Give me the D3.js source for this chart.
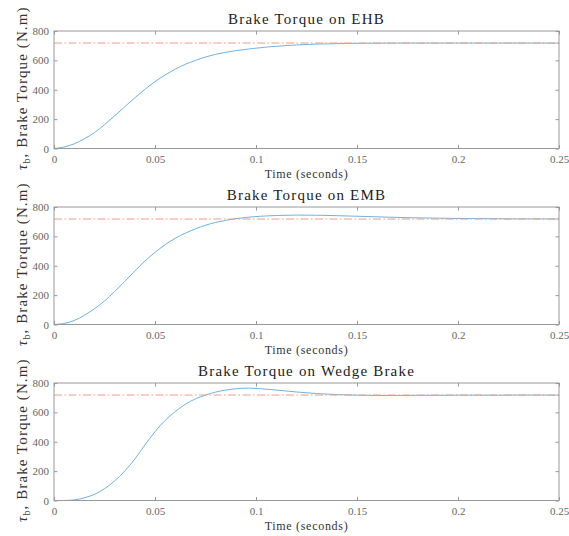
<!DOCTYPE html>
<html>
<head>
<meta charset="utf-8">
<script src="https://cdn.jsdelivr.net/npm/d3@7"></script>
<style>
  body { margin: 0; background: #fff; }
  svg text { font-family: "Liberation Serif", "Times New Roman", Tinos, "DejaVu Serif", serif !important; }
</style>
</head>
<body>
<div id="chart"></div>
<script>
// sample times (s)
const time = [0, 0.005, 0.01, 0.015, 0.02, 0.025, 0.03, 0.035, 0.04, 0.045, 0.05, 0.055,
  0.06, 0.065, 0.07, 0.075, 0.08, 0.085, 0.09, 0.095, 0.1, 0.11, 0.12, 0.13, 0.14, 0.15,
  0.16, 0.17, 0.18, 0.19, 0.2, 0.21, 0.22, 0.23, 0.24, 0.25];

const torqueEHB = [0, 10, 32, 66, 108, 162, 222, 284, 345, 403, 455, 500,
  540, 573, 600, 623, 641, 655, 666, 675, 683, 696, 705, 711, 714, 716,
  717, 718, 718, 718, 718, 718, 718, 718, 718, 718];

const torqueEMB = [0, 7, 27, 62, 107, 160, 224, 293, 364, 432, 491, 543,
  587, 622, 651, 676, 695, 709, 720, 729, 735, 742, 745, 744, 741, 737,
  733, 729, 726, 724, 722, 721, 720, 719, 719, 718];

const torqueWedge = [0, 0, 4, 18, 42, 80, 133, 200, 282, 378, 468, 545,
  605, 655, 692, 718, 738, 752, 761, 765, 763, 752, 739, 728, 721, 717,
  715, 715, 716, 716, 717, 717, 717, 718, 718, 718];

const setpoint = 718;
const titles = ["Brake Torque on EHB", "Brake Torque on EMB", "Brake Torque on Wedge Brake"];
const xTicks = [0, 0.05, 0.1, 0.15, 0.2, 0.25];
const xTickLabels = ["0", "0.05", "0.1", "0.15", "0.2", "0.25"];
const yTicks = [0, 200, 400, 600, 800];

const series = [torqueEHB, torqueEMB, torqueWedge];

const W = 569, H = 536;
const left = 54, right = 559, plotH = 117.5;
const tops = [31, 207, 383];
const axisColor = "#999";
const serif = "'Liberation Serif', 'Times New Roman', Tinos, 'DejaVu Serif', serif";

const svg = d3.select("#chart").append("svg")
  .attr("width", W)
  .attr("height", H);

const x = d3.scaleLinear().domain([0, 0.25]).range([left, right]);

series.forEach((vals, i) => {
  const top = tops[i], bottom = top + plotH;
  const y = d3.scaleLinear().domain([0, 800]).range([bottom, top]);
  const g = svg.append("g").attr("font-family", serif);

  // curves
  const line = d3.line()
    .x((d, k) => x(time[k]))
    .y(d => y(d))
    .curve(d3.curveCatmullRom);

  g.append("path")
    .attr("d", line(vals))
    .attr("fill", "none")
    .attr("stroke", "#6fb2e2")
    .attr("stroke-width", 1);

  g.append("line")
    .attr("x1", x(0)).attr("x2", x(0.25))
    .attr("y1", y(setpoint)).attr("y2", y(setpoint))
    .attr("stroke", "#ef9f7c")
    .attr("stroke-width", 1)
    .attr("stroke-dasharray", "8,2.5,1.5,2.5");

  // box + inward ticks on all four sides
  const tk = 3.5;
  const xb = g.append("g").attr("transform", `translate(0,${bottom})`)
    .call(d3.axisBottom(x).tickValues(xTicks).tickSize(-tk).tickFormat((d, k) => xTickLabels[k]));
  g.append("g").attr("transform", `translate(0,${top})`)
    .call(d3.axisTop(x).tickValues(xTicks).tickSize(-tk).tickFormat(""));
  const yl = g.append("g").attr("transform", `translate(${left},0)`)
    .call(d3.axisLeft(y).tickValues(yTicks).tickSize(-tk));
  g.append("g").attr("transform", `translate(${right},0)`)
    .call(d3.axisRight(y).tickValues(yTicks).tickSize(-tk).tickFormat(""));

  g.selectAll(".domain").remove();
  g.selectAll(".tick line").attr("stroke", axisColor);
  g.selectAll(".tick text")
    .attr("font-family", serif)
    .attr("font-size", 11)
    .attr("fill", "#666");
  xb.selectAll(".tick text").attr("dy", null).attr("y", 14);
  yl.selectAll(".tick text").attr("x", -5);

  g.append("rect")
    .attr("x", left).attr("y", top)
    .attr("width", right - left).attr("height", plotH)
    .attr("fill", "none")
    .attr("stroke", axisColor)
    .attr("stroke-width", 1);

  // title
  g.append("text")
    .attr("x", (left + right) / 2)
    .attr("y", top - 7.5)
    .attr("text-anchor", "middle")
    .attr("font-size", 15)
    .attr("letter-spacing", 1.2)
    .attr("fill", "#222")
    .text(titles[i]);

  // x label
  g.append("text")
    .attr("x", (left + right) / 2)
    .attr("y", bottom + 29)
    .attr("text-anchor", "middle")
    .attr("font-size", 12)
    .attr("letter-spacing", 0.7)
    .attr("fill", "#333")
    .text("Time (seconds)");

  // y label
  const ylab = g.append("text")
    .attr("transform", `translate(27,${top + plotH / 2 - 1.5}) rotate(-90)`)
    .attr("text-anchor", "middle")
    .attr("font-size", 15)
    .attr("letter-spacing", 1.1)
    .attr("fill", "#333");
  ylab.append("tspan").attr("font-style", "italic").text("τ");
  ylab.append("tspan").attr("font-size", 10).attr("dy", 3).text("b");
  ylab.append("tspan").attr("dy", -3).text(", Brake Torque (N.m)");
});
</script>
</body>
</html>
